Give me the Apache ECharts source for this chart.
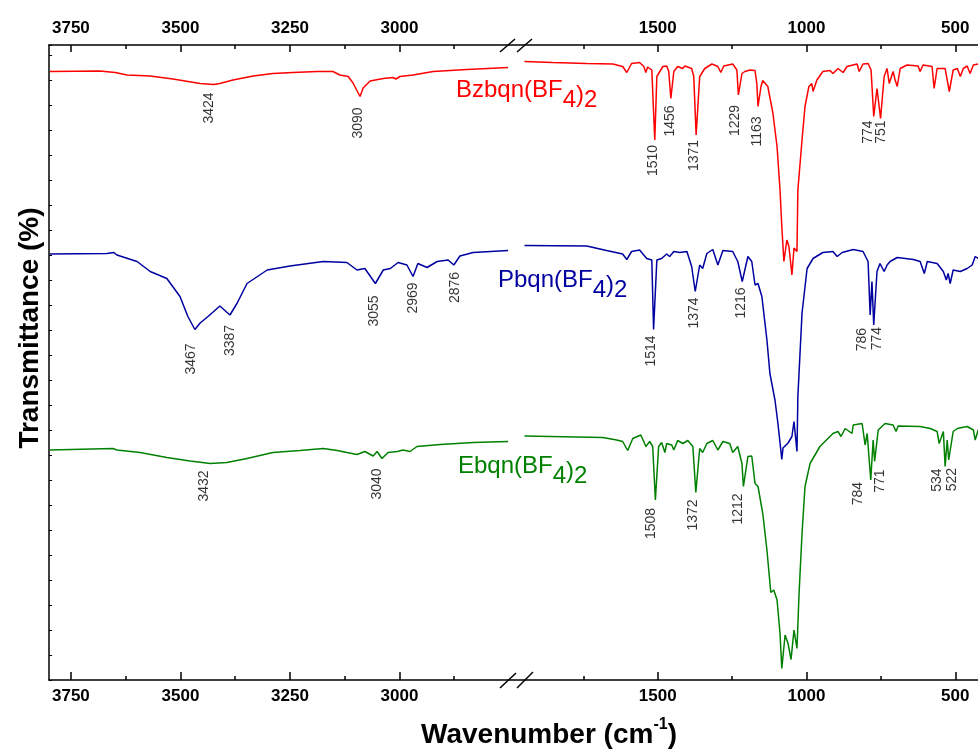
<!DOCTYPE html>
<html><head><meta charset="utf-8">
<script src="https://cdn.jsdelivr.net/npm/echarts@6/dist/echarts.min.js"></script>
<style>html,body{margin:0;padding:0;background:#fff}#c{width:978px;height:751px}</style>
</head><body><div id="c"></div>
<script>
// ---------- DATA (wavenumber cm-1, transmittance in offset arbitrary units) ----------
const highRange = [2750, 3800];
const lowRange = [400, 2000];
const highTicks = [3000, 3250, 3500, 3750];
const highMinorTicks = [2875, 3125, 3375, 3625];
const lowTicks = [500, 1000, 1500];
const lowMinorTicks = [750, 1250, 1750];

const bzHigh = [[3798,121.7],[3684,121.8],[3649,121.5],[3622,121.0],[3569,120.8],[3517,120.2],[3455,119.3],[3424,119.1],[3410,119.3],[3380,120.0],[3334,120.8],[3289,121.3],[3243,121.5],[3188,121.7],[3152,121.7],[3136,121.0],[3117,120.7],[3106,119.4],[3090,116.7],[3083,118.4],[3067,119.8],[3037,120.3],[3015,120.5],[3008,120.2],[2999,120.7],[2969,121.0],[2923,121.7],[2846,122.1],[2752,122.5]];
const bzLow = [[1948,123.7],[1853,123.5],[1739,123.3],[1651,123.2],[1618,122.7],[1604,121.5],[1588,123.3],[1561,123.5],[1547,122.7],[1540,121.5],[1534,122.6],[1520,122.0],[1510,108.0],[1503,120.7],[1493,121.7],[1483,122.7],[1470,122.8],[1463,121.7],[1456,116.3],[1446,121.7],[1433,122.7],[1416,122.3],[1409,122.8],[1386,122.3],[1379,120.7],[1371,109.0],[1359,120.7],[1342,122.3],[1318,123.2],[1298,122.7],[1288,121.5],[1278,122.8],[1248,123.2],[1234,122.0],[1229,117.0],[1217,121.3],[1207,121.7],[1190,122.0],[1173,121.9],[1167,119.3],[1163,114.7],[1153,118.7],[1147,119.9],[1130,118.7],[1113,113.4],[1099,106.7],[1089,98.0],[1083,90.7],[1076,83.7],[1066,88.0],[1059,86.7],[1049,81.0],[1042,86.4],[1032,85.7],[1029,98.0],[1015,108.0],[1005,114.7],[992,118.7],[982,119.3],[978,117.7],[965,120.0],[945,121.7],[921,121.9],[911,121.3],[894,122.3],[877,121.5],[864,122.7],[830,123.2],[823,121.7],[810,123.2],[793,123.3],[783,122.0],[774,112.7],[763,118.3],[751,112.3],[739,120.7],[729,122.3],[722,119.3],[709,121.7],[702,120.0],[695,118.7],[685,122.3],[662,123.0],[625,122.8],[618,121.7],[608,123.0],[578,122.7],[571,118.3],[561,122.3],[534,122.3],[520,117.7],[507,122.0],[493,122.3],[483,120.7],[473,122.3],[460,122.8],[450,121.3],[439,123.0],[423,123.2],[400,123.2]];

const pbHigh = [[3798,85.2],[3668,85.3],[3652,85.5],[3645,85.0],[3599,83.7],[3569,81.7],[3531,80.3],[3501,76.7],[3483,72.7],[3467,70.1],[3455,71.4],[3437,72.7],[3410,74.8],[3387,73.0],[3371,75.3],[3348,79.3],[3302,82.0],[3250,82.8],[3174,83.7],[3120,83.5],[3097,82.0],[3079,82.3],[3055,79.3],[3037,82.0],[3021,82.3],[3003,83.5],[2983,83.0],[2969,80.7],[2958,83.3],[2937,82.5],[2914,83.7],[2889,84.0],[2876,83.0],[2862,84.8],[2832,85.5],[2752,85.9]];
const pbLow = [[1948,86.9],[1739,86.8],[1672,85.9],[1618,85.2],[1604,84.1],[1588,85.7],[1561,86.0],[1547,85.0],[1537,84.3],[1520,84.0],[1514,70.1],[1503,84.0],[1487,84.3],[1470,85.2],[1460,84.7],[1446,85.7],[1426,85.5],[1402,85.7],[1386,82.7],[1374,77.7],[1359,83.0],[1349,82.3],[1335,85.3],[1315,86.1],[1298,83.0],[1281,85.9],[1248,85.7],[1231,83.7],[1216,79.7],[1197,84.7],[1184,83.7],[1173,79.0],[1163,79.3],[1150,76.7],[1133,68.0],[1123,61.3],[1106,56.0],[1096,51.3],[1083,44.1],[1079,46.4],[1062,47.4],[1049,48.7],[1042,51.7],[1032,45.7],[1029,56.7],[1015,73.4],[998,82.3],[978,84.3],[945,85.5],[911,85.7],[897,84.7],[880,85.5],[843,86.1],[810,85.7],[793,83.7],[786,73.0],[780,79.7],[774,71.0],[763,81.7],[753,83.3],[739,81.7],[729,83.0],[719,83.7],[695,84.5],[641,84.1],[618,83.7],[604,81.3],[594,83.7],[561,83.3],[540,81.7],[530,80.0],[524,81.3],[517,79.3],[507,82.0],[483,81.7],[460,82.3],[443,83.0],[433,84.7],[423,84.3],[400,84.5]];

const ebHigh = [[3798,46.0],[3654,46.3],[3645,46.0],[3592,45.5],[3531,44.5],[3478,43.8],[3432,43.3],[3394,43.5],[3348,44.3],[3289,45.5],[3227,45.9],[3174,46.3],[3142,45.9],[3120,45.5],[3097,45.1],[3079,45.7],[3060,44.8],[3051,45.7],[3040,44.3],[3026,45.5],[3005,45.7],[2992,46.0],[2976,45.7],[2960,46.7],[2907,47.1],[2832,47.5],[2752,47.7]];
const ebLow = [[1948,48.8],[1685,48.5],[1638,48.0],[1618,47.7],[1601,45.9],[1584,48.3],[1557,49.0],[1547,47.7],[1540,46.7],[1527,47.7],[1517,46.7],[1508,36.0],[1497,46.7],[1487,47.5],[1476,45.5],[1470,47.3],[1453,47.0],[1446,46.0],[1433,47.9],[1416,47.3],[1399,47.9],[1382,46.7],[1372,37.5],[1359,46.3],[1349,45.5],[1335,47.3],[1315,47.9],[1298,46.0],[1281,47.7],[1258,47.3],[1248,45.5],[1231,46.7],[1217,43.3],[1212,38.7],[1197,44.7],[1184,44.8],[1173,39.3],[1163,38.7],[1147,33.3],[1133,26.0],[1120,17.5],[1110,18.0],[1099,16.0],[1089,9.3],[1083,2.3],[1072,9.0],[1062,7.3],[1052,4.1],[1042,10.0],[1032,6.3],[1025,17.3],[1015,29.3],[1005,38.7],[988,43.3],[955,46.7],[911,49.3],[894,49.7],[884,48.7],[870,50.3],[847,49.3],[843,51.0],[813,51.3],[803,47.0],[796,49.3],[784,40.0],[776,48.0],[771,43.7],[759,50.0],[736,51.3],[709,51.0],[699,49.7],[692,50.8],[618,50.7],[584,50.3],[561,49.7],[554,47.3],[540,49.7],[534,42.7],[527,48.0],[522,44.0],[507,49.7],[493,50.3],[460,50.7],[439,50.0],[433,48.0],[423,50.0],[400,50.0]];

const bzPeaks = [3424, 3090, 1510, 1456, 1371, 1229, 1163, 774, 751];
const pbPeaks = [3467, 3387, 3055, 2969, 2876, 1514, 1374, 1216, 786, 774];
const ebPeaks = [3432, 3040, 1508, 1372, 1212, 784, 771, 534, 522];

const sampleNames = [['Bzbqn(BF', '4', ')', '2'], ['Pbqn(BF', '4', ')', '2'], ['Ebqn(BF', '4', ')', '2']];
const xTitle = ['Wavenumber (cm', '-1', ')'];
const yTitle = 'Transmittance (%)';

// ---------- STYLE ----------
const FONT = '"Liberation Sans", Arial, sans-serif';
const colors = ['#ff0000', '#0000a0', '#008000'];
// label nudges [dx, dy] in px relative to the peak point
const nudges = [
  {3424:[-5,8],3090:[-2,11],1510:[-2,5],1456:[-1,7],1371:[-2,5],1229:[-3,10],1163:[-1,10],774:[-6,4],751:[1,2]},
  {3467:[-4,14],3387:[0,10],3055:[-1,12],2969:[0,6],2876:[1,7],1514:[-2,6],1374:[-1,6],1216:[-1,6],786:[-8,13],774:[3,2]},
  {3432:[-6,7],3040:[-5,10],1508:[-4,8],1372:[-3,7],1212:[-5,7],784:[-13,2],771:[6,8],534:[-8,2],522:[3,8]}
];
const nameBoxes = [[456, 78], [498, 268], [458, 454]];
const NAME_SIZE = 24;

const PLOT_TOP = 45, PLOT_BOTTOM = 71;
const grids = [
  {left: 49, width: 460, top: PLOT_TOP, bottom: PLOT_BOTTOM, outerBoundsMode: 'none', containLabel: false},
  {left: 509, width: 476, top: PLOT_TOP, bottom: PLOT_BOTTOM, outerBoundsMode: 'none', containLabel: false}
];

function xAxisCfg(gridIndex, position, range, ticks, labels, tickLen, showLine) {
  return {
    type: 'value', gridIndex, position, min: range[0], max: range[1], inverse: true,
    axisLine: {show: showLine, onZero: false, lineStyle: {color: '#000', width: 1.5}},
    axisTick: {show: true, inside: true, length: tickLen, customValues: ticks, lineStyle: {color: '#000', width: 1.5}},
    axisLabel: labels ? {show: true, customValues: labels, formatter: v => String(v), margin: 8, color: '#000',
      fontFamily: FONT, fontWeight: 'bold', fontSize: 17} : {show: false},
    splitLine: {show: false}
  };
}

const xAxes = [
  xAxisCfg(0, 'bottom', highRange, highTicks, highTicks, 8, true),
  xAxisCfg(0, 'top', highRange, highTicks, highTicks, 7, true),
  xAxisCfg(0, 'bottom', highRange, highMinorTicks, null, 4, false),
  xAxisCfg(0, 'top', highRange, highMinorTicks, null, 4, false),
  xAxisCfg(1, 'bottom', lowRange, lowTicks, lowTicks, 8, true),
  xAxisCfg(1, 'top', lowRange, lowTicks, lowTicks, 7, true),
  xAxisCfg(1, 'bottom', lowRange, lowMinorTicks, null, 4, false),
  xAxisCfg(1, 'top', lowRange, lowMinorTicks, null, 4, false)
];
const yAxes = [
  {type: 'value', gridIndex: 0, min: 0, max: 127, interval: 5,
   axisLine: {show: true, lineStyle: {color: '#000', width: 1.5}},
   axisTick: {show: true, inside: true, length: 3, lineStyle: {color: '#000', width: 1}},
   axisLabel: {show: false}, splitLine: {show: false}},
  {type: 'value', gridIndex: 1, min: 0, max: 127, show: false, splitLine: {show: false}}
];

const spectra = [[bzHigh, bzLow], [pbHigh, pbLow], [ebHigh, ebLow]];
const peaks = [bzPeaks, pbPeaks, ebPeaks];
const series = [];
spectra.forEach((sp, i) => {
  series.push({type: 'line', xAxisIndex: 0, yAxisIndex: 0, data: sp[0], showSymbol: false, symbol: 'none',
    lineStyle: {color: colors[i], width: 1.5}, silent: true, animation: false});
  series.push({type: 'line', xAxisIndex: 4, yAxisIndex: 1, data: sp[1], showSymbol: false, symbol: 'none',
    lineStyle: {color: colors[i], width: 1.5}, silent: true, animation: false});
  const all = sp[0].concat(sp[1]);
  const findT = w => all.reduce((b, p) => Math.abs(p[0] - w) < Math.abs(b[0] - w) ? p : b)[1];
  const mk = (list) => list.map(w => ({
    name: String(w), value: [w, findT(w)],
    label: {position: nudges[i][w] || [0, 7]}
  }));
  const hi = peaks[i].filter(w => w > 2500), lo = peaks[i].filter(w => w <= 2500);
  const lab = {show: true, formatter: '{b}', rotate: 90, align: 'right', verticalAlign: 'middle',
    color: '#000', fontFamily: FONT, fontSize: 14};
  series.push({type: 'scatter', xAxisIndex: 0, yAxisIndex: 0, data: mk(hi), symbolSize: 0.1,
    itemStyle: {color: 'transparent'}, label: lab, silent: true, animation: false});
  series.push({type: 'scatter', xAxisIndex: 4, yAxisIndex: 1, data: mk(lo), symbolSize: 0.1,
    itemStyle: {color: 'transparent'}, label: lab, silent: true, animation: false});
});

function tok(size, lh, va, weight) {
  return {fontSize: size, lineHeight: lh, verticalAlign: va, fontFamily: FONT, fontWeight: weight || 'normal'};
}
const graphics = [];
sampleNames.forEach((n, i) => {
  graphics.push({type: 'text', x: nameBoxes[i][0], y: nameBoxes[i][1], silent: true,
    style: {text: '{m|' + n[0] + '}{s|' + n[1] + '}{p|' + n[2] + '}{s|' + n[3] + '}', fill: colors[i],
      fontFamily: FONT, fontSize: NAME_SIZE,
      rich: {m: tok(NAME_SIZE, 24, 'top'), s: tok(NAME_SIZE, 34, 'bottom'), p: tok(NAME_SIZE, 24, 'middle')}}});
});
graphics.push({type: 'text', x: 30, y: 328, rotation: Math.PI / 2, silent: true,
  style: {text: yTitle, fill: '#000', fontFamily: FONT, fontWeight: 'bold', fontSize: 28, align: 'center', verticalAlign: 'middle'}});
graphics.push({type: 'text', x: 549, y: 733, silent: true,
  style: {text: '{m|' + xTitle[0] + '}{u|' + xTitle[1] + '}{m|' + xTitle[2] + '}', fill: '#000', fontFamily: FONT,
    fontWeight: 'bold', fontSize: 28, align: 'center', verticalAlign: 'middle',
    rich: {m: tok(28, 33, 'bottom', 'bold'), u: tok(16, 16, 'top', 'bold')}}});
// axis break marks
[[500, 52, 515, 39], [517, 52, 532, 39], [500, 688, 516, 673], [517, 688, 533, 672]].forEach(s => {
  graphics.push({type: 'line', silent: true, shape: {x1: s[0], y1: s[1], x2: s[2], y2: s[3]},
    style: {stroke: '#000', lineWidth: 1.5}});
});

const chart = echarts.init(document.getElementById('c'), null, {renderer: 'canvas'});
chart.setOption({
  animation: false,
  backgroundColor: '#fff',
  grid: grids,
  xAxis: xAxes,
  yAxis: yAxes,
  series: series,
  graphic: graphics
});
</script>
</body></html>
